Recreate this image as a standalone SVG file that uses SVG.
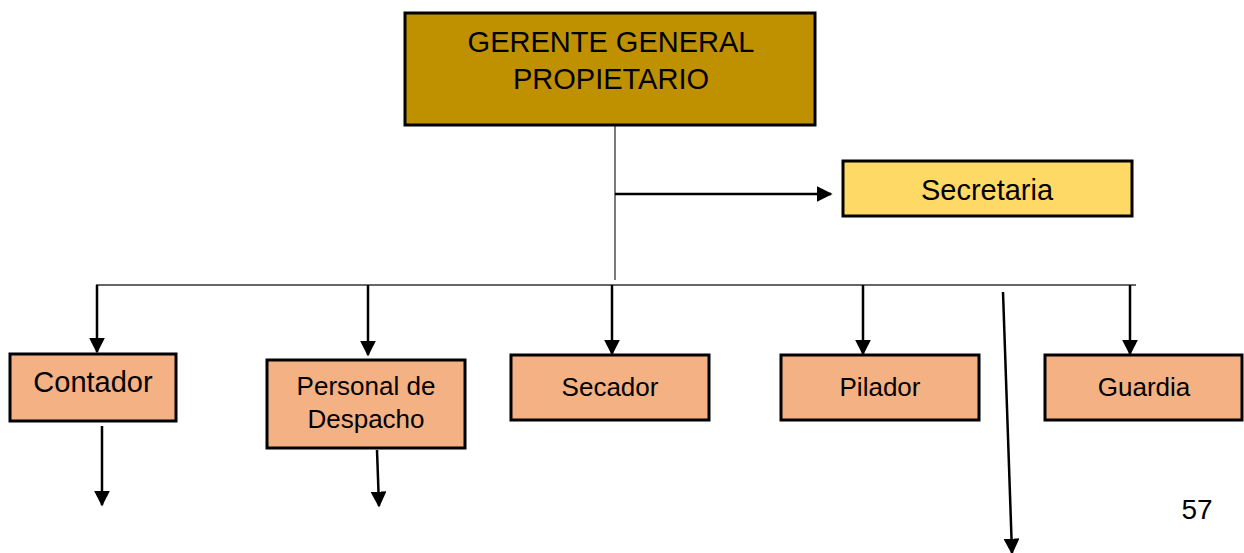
<svg xmlns="http://www.w3.org/2000/svg" width="1244" height="553" viewBox="0 0 1244 553">
  <style>
    .box { stroke: #000; stroke-width: 3; }
    .top { fill: #BF9000; }
    .sec { fill: #FFD966; }
    .staff { fill: #F4B183; }
    .lbl { font-family: "Liberation Sans", Arial, sans-serif; fill: #000; text-anchor: middle; }
    .thin { stroke: #333; stroke-width: 1.3; fill: none; }
    .arr { stroke: #000; stroke-width: 2.5; fill: none; marker-end: url(#head); }
  </style>
  <defs>
    <marker id="head" viewBox="0 0 10 10" refX="9" refY="5" markerWidth="6.4" markerHeight="6.4" markerUnits="strokeWidth" orient="auto">
      <path d="M0,0 L10,5 L0,10 Z" fill="#000"/>
    </marker>
  </defs>
  <rect width="1244" height="553" fill="#fff"/>

  <g id="connectors">
    <line class="thin" x1="615" y1="126" x2="615" y2="280"/>
    <line class="arr" x1="615" y1="194" x2="831" y2="194"/>
    <line class="thin" x1="96" y1="285" x2="1136" y2="285"/>
    <line class="arr" x1="97" y1="285" x2="97" y2="352"/>
    <line class="arr" x1="368" y1="285" x2="368" y2="355"/>
    <line class="arr" x1="612" y1="285" x2="612" y2="354"/>
    <line class="arr" x1="863" y1="285" x2="863" y2="354"/>
    <line class="arr" x1="1130" y1="285" x2="1130" y2="354"/>
    <line class="arr" x1="1003" y1="292" x2="1012" y2="553"/>
    <line class="arr" x1="102" y1="426" x2="102" y2="505"/>
    <line class="arr" x1="377" y1="450" x2="379" y2="506"/>
  </g>

  <g id="gerente">
    <rect class="box top" x="405" y="13" width="410" height="112"/>
    <text class="lbl" x="611" y="52" font-size="29">GERENTE GENERAL</text>
    <text class="lbl" x="611" y="89" font-size="29">PROPIETARIO</text>
  </g>

  <g id="secretaria">
    <rect class="box sec" x="843" y="161" width="289" height="55"/>
    <text class="lbl" x="987" y="200" font-size="29">Secretaria</text>
  </g>

  <g id="contador">
    <rect class="box staff" x="10" y="354" width="166" height="67"/>
    <text class="lbl" x="93" y="392" font-size="29">Contador</text>
  </g>

  <g id="despacho">
    <rect class="box staff" x="267" y="360" width="198" height="88"/>
    <text class="lbl" x="366" y="395" font-size="26">Personal de</text>
    <text class="lbl" x="366" y="428" font-size="26">Despacho</text>
  </g>

  <g id="secador">
    <rect class="box staff" x="511" y="355" width="198" height="65"/>
    <text class="lbl" x="610" y="396" font-size="26">Secador</text>
  </g>

  <g id="pilador">
    <rect class="box staff" x="781" y="355" width="198" height="65"/>
    <text class="lbl" x="880" y="396" font-size="26">Pilador</text>
  </g>

  <g id="guardia">
    <rect class="box staff" x="1045" y="355" width="197" height="65"/>
    <text class="lbl" x="1144" y="396" font-size="26">Guardia</text>
  </g>

  <text class="lbl" x="1197" y="519" font-size="28">57</text>
</svg>
